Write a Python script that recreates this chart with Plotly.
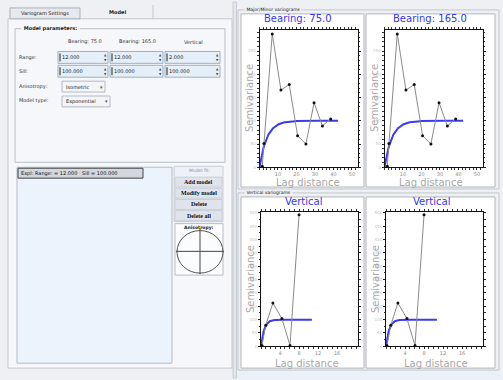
import numpy as np
import plotly.graph_objects as go

W, H = 503, 380

# Experimental semivariogram points, horizontal directions
BEARING_LAGS = [1.5, 2.4, 6.9, 11.6, 16.1, 20.6, 25.1, 29.5, 34.0, 38.5]
BEARING_75_GAMMA = [2, 51, 287, 166, 178, 68, 50, 139, 89, 104]
BEARING_165_GAMMA = [2, 51, 287, 166, 178, 68, 50, 139, 89, 104]

# Experimental semivariogram points, vertical direction
VERT_LAGS = [0.2, 1.0, 2.5, 4.4, 6.1, 8.0]
VERT_GAMMA = [3, 79, 162, 104, 3, 493]

# Fitted exponential model
MODEL_SILL = 100.0
RANGE_75 = 12.0
RANGE_165 = 12.0
RANGE_VERT = 2.0
MODEL_MAX_LAG_H = 42.5
MODEL_MAX_LAG_V = 10.7

PANEL_TITLES = ["Bearing: 75.0", "Bearing: 165.0", "Vertical", "Vertical"]
HORIZ_TICKS = [10, 20, 30, 40, 50]
VERT_XTICKS = [4, 8, 12, 16]
HORIZ_YRANGE = [0, 296]
VERT_YRANGE = [0, 504]

BUTTONS = ["Add model", "Modify model", "Delete", "Delete all"]
COLUMN_HEADERS = ["Bearing: 75.0", "Bearing: 165.0", "Vertical"]
SILL_TEXT = ["100.000", "100.000", "100.000"]
RANGE_TEXT = [f"{r:.3f}" for r in (RANGE_75, RANGE_165, RANGE_VERT)]


def X(px):
    return px / W


def Y(py):
    return 1 - py / H


def expo(h, rng):
    return MODEL_SILL * (1 - np.exp(-3.0 * h / rng))


GUI_FONT = "DejaVu Sans"
shapes = []
annotations = []


def rect(x0, y0, x1, y1, fill=None, line="#c0c4cc", width=1, layer="below"):
    shapes.append(dict(type="rect", xref="paper", yref="paper",
                       x0=X(x0), x1=X(x1), y0=Y(y1), y1=Y(y0),
                       fillcolor=fill if fill else "rgba(0,0,0,0)",
                       line=dict(color=line, width=width), layer=layer))


def line(x0, y0, x1, y1, color="#888", width=1, layer="below"):
    shapes.append(dict(type="line", xref="paper", yref="paper",
                       x0=X(x0), x1=X(x1), y0=Y(y0), y1=Y(y1),
                       line=dict(color=color, width=width), layer=layer))


def text(x, y, s, size=5, color="#333", anchor="left", bold=False,
         family=GUI_FONT, bg=None, angle=0):
    if bold:
        s = f"<b>{s}</b>"
    a = dict(xref="paper", yref="paper", x=X(x), y=Y(y), text=s,
             showarrow=False, xanchor=anchor, yanchor="middle",
             font=dict(size=size, color=color, family=family),
             borderpad=0, textangle=angle)
    if bg:
        a["bgcolor"] = bg
    annotations.append(a)


PAGE = "#eef0f4"
PANE = "#f6f7fa"

# ---------------- left settings pane ----------------
rect(8, 17, 232, 370, fill=PANE, line="#c4c8d0")
rect(10, 6, 80, 17, fill="#e6e9ee", line="#a9b0ba")
text(45, 11.5, "Variogram Settings", size=5, anchor="center", color="#222")
line(153, 3, 153, 17, color="#c4c8d0")
text(117, 10, "Model", size=5, anchor="center", bold=True, color="#222")

# Model parameters group
rect(15, 27, 225, 162, line="#b9bdc6")
text(21, 27, " Model parameters: ", size=5, bold=True, bg=PANE, color="#222")

col_centers = [85, 137, 193]
for cx, hdr in zip(col_centers, COLUMN_HEADERS):
    text(cx, 40, hdr, size=5, anchor="center", color="#333")

text(18, 56, "Range:", size=5)
text(18, 70, "Sill:", size=5)
text(18, 85, "Anisotropy:", size=5)
text(18, 100, "Model type:", size=5)

boxes = [(58, 108), (110, 163), (165, 220)]
for (bx0, bx1), rtxt, stxt in zip(boxes, RANGE_TEXT, SILL_TEXT):
    for (y0, y1, s) in [(50, 62, rtxt), (64, 76, stxt)]:
        rect(bx0, y0, bx1, y1, fill="#e5effa", line="#a4afbf")
        line(bx0 + 2, y0 + 2, bx0 + 2, y1 - 2, color="#222", width=1)
        text(bx0 + 3, (y0 + y1) / 2, s, size=5, color="#222")
        text(bx1 - 3, (y0 + y1) / 2 - 2.5, "▲", size=3, anchor="center", color="#444")
        text(bx1 - 3, (y0 + y1) / 2 + 2.5, "▼", size=3, anchor="center", color="#444")

rect(62, 80, 105, 91, fill="#f3f5f8", line="#b3bac5")
text(65, 85.5, "Isometric", size=5, color="#222")
text(101, 85.5, "▾", size=5, anchor="center", color="#555")
rect(62, 95, 110, 106, fill="#f3f5f8", line="#b3bac5")
text(65, 100.5, "Exponential", size=5, color="#222")
text(106, 100.5, "▾", size=5, anchor="center", color="#555")

# Model list
rect(17, 167, 172, 365, fill="#ebf4fd", line="#b4bac4")
rect(18, 168, 143, 178, fill="#d3d8de", line="#444")
text(20, 173,
     f"Expl: Range: = {RANGE_75:.3f}   Sill = {MODEL_SILL:.3f}",
     size=5, color="#111")

# Buttons column
rect(174, 166, 223, 222, fill="#eef1f6", line="#c8cdd6")
text(199, 170.5, "Model fit:", size=4.5, anchor="center", color="#8890a0")
for i, b in enumerate(BUTTONS):
    cy = 182 + i * 11.3
    rect(175, cy - 5, 222, cy + 5, fill="#dfe4ec", line="#c9ced8")
    text(198.5, cy, b, size=6, anchor="center", bold=True,
         family="Liberation Serif", color="#111")

# Anisotropy indicator
rect(175, 224, 223, 276, fill="#fbfcfd", line="#b8bcc4")
text(199, 228, "Anisotropy:", size=4.5, anchor="center", bold=True, color="#222")
shapes.append(dict(type="circle", xref="paper", yref="paper",
                   x0=X(177), x1=X(223), y0=Y(274), y1=Y(231),
                   line=dict(color="#555", width=1), layer="below"))
line(176, 252, 224, 252, color="#444")
line(200, 229, 200, 275, color="#444")

# ---------------- splitter and right pane ----------------
rect(233, 0, 236.5, 380, fill="#e2e5ea", line="#c8ccd3")
rect(237, 373, 503, 380, fill="#eaf1f9", line="rgba(0,0,0,0)")

rect(238, 8, 499, 189, line="#c3c6cc")
text(244, 8, " Major/Minor variograms ", size=4.5, bg=PAGE, color="#222")
rect(241, 12, 364, 187, fill="white", line="#b4b6ba")
rect(366, 12, 495, 187, fill="white", line="#b4b6ba")

rect(238, 193, 499, 372, line="#c3c6cc")
text(244, 193, " Vertical variograms ", size=4.5, bg=PAGE, color="#222")
rect(241, 197, 364, 370, fill="white", line="#b4b6ba")
rect(366, 197, 495, 370, fill="white", line="#b4b6ba")

# ---------------- variogram plots ----------------
frames = [((259.5, 357.5), (28, 167)),
          ((384.5, 482.5), (28, 167)),
          ((261, 358), (212, 348)),
          ((386, 483), (212, 348))]

fig = go.Figure()

GREY = "#8a8a8a"
BLUE = "#3b3bef"

series = [
    (BEARING_LAGS, BEARING_75_GAMMA, RANGE_75, MODEL_MAX_LAG_H),
    (BEARING_LAGS, BEARING_165_GAMMA, RANGE_165, MODEL_MAX_LAG_H),
    (VERT_LAGS, VERT_GAMMA, RANGE_VERT, MODEL_MAX_LAG_V),
    (VERT_LAGS, VERT_GAMMA, RANGE_VERT, MODEL_MAX_LAG_V),
]

layout_axes = {}
for i, ((xd, yd), (lags, gam, rng, hmax), title) in enumerate(
        zip(frames, series, PANEL_TITLES)):
    n = "" if i == 0 else str(i + 1)
    xa, ya = "x" + n, "y" + n
    h = np.linspace(0, hmax, 120)
    fig.add_trace(go.Scatter(x=h, y=expo(h, rng), mode="lines",
                             line=dict(color=BLUE, width=2),
                             xaxis=xa, yaxis=ya, showlegend=False,
                             hoverinfo="skip"))
    fig.add_trace(go.Scatter(x=lags, y=gam, mode="lines+markers",
                             line=dict(color=GREY, width=1),
                             marker=dict(color="#111", size=3),
                             xaxis=xa, yaxis=ya, showlegend=False))
    horiz = i < 2
    xr = [0, 53] if horiz else [0, 20.4]
    yr = HORIZ_YRANGE if horiz else VERT_YRANGE
    common = dict(showline=True, linecolor="#111", linewidth=1,
                  mirror="allticks", ticks="outside", ticklen=2,
                  tickcolor="#222", tickwidth=1, showgrid=False,
                  zeroline=False, fixedrange=True)
    layout_axes["xaxis" + n] = dict(
        common, domain=[X(xd[0]), X(xd[1])], range=xr,
        anchor=ya, tickvals=HORIZ_TICKS if horiz else VERT_XTICKS,
        tickfont=dict(size=5, color="#888", family=GUI_FONT),
        minor=dict(dtick=2 if horiz else 1, ticklen=1.5, ticks="outside",
                   tickcolor="#333"))
    layout_axes["yaxis" + n] = dict(
        common, domain=[Y(yd[1]), Y(yd[0])], range=yr,
        anchor=xa, dtick=50,
        tickfont=dict(size=4, color="#c4c4c4", family=GUI_FONT),
        minor=dict(dtick=10 if horiz else 25, ticklen=1.5, ticks="outside",
                   tickcolor="#333"))

    # titles and axis captions
    cx_title = [298, 430, 303, 431][i]
    ty = 17 if horiz else 202
    text(cx_title, ty, title, size=10, anchor="center", color="#3535f2",
         family="DejaVu Sans")
    cx_lag = [308, 431, 307, 436][i]
    ly = 182 if horiz else 365
    text(cx_lag, ly, "Lag distance", size=10, anchor="center", color="#a8a8a8",
         family="DejaVu Sans")
    sy = 97 if horiz else 280
    sx = [250, 375, 250, 375][i]
    text(sx, sy, "Semivariance", size=10, anchor="center", color="#a8a8a8",
         family="DejaVu Sans", angle=-90)

fig.update_layout(
    width=W, height=H, margin=dict(l=0, r=0, t=0, b=0),
    paper_bgcolor=PAGE, plot_bgcolor="white",
    shapes=shapes, annotations=annotations, showlegend=False,
    **layout_axes,
)

fig.write_html("out.html", config={"displayModeBar": False})
